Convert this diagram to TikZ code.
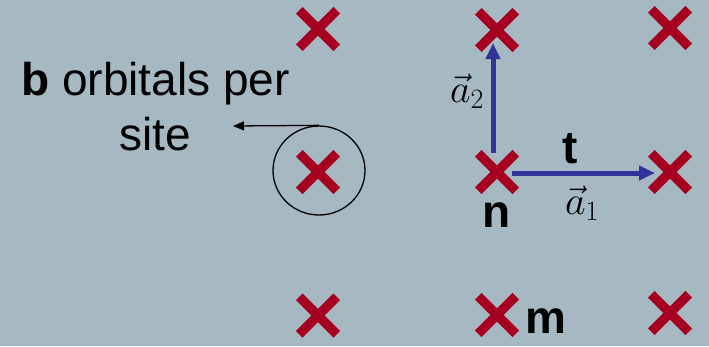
\documentclass[tikz,border=0pt]{standalone}
\usepackage{fix-cm}
\usepackage{fontspec}
\setmainfont{Liberation Sans}
\usetikzlibrary{shapes.misc,shapes.geometric,arrows.meta}
\definecolor{slate}{RGB}{166,184,193}
\definecolor{siteRed}{RGB}{165,0,33}
\definecolor{vecBlue}{RGB}{51,51,153}
\tikzset{
  site/.style={cross out, draw=siteRed, line width=9.5pt, minimum size=28pt, inner sep=0pt},
  latvec/.style={draw=vecBlue, line width=5pt, -{Triangle[length=16pt,width=14pt]}},
  txt/.style={font=\fontsize{46}{55}\selectfont, inner sep=0pt, anchor=base},
  vlab/.style={font=\fontsize{40}{44}\selectfont, inner sep=0pt, anchor=base}
}
\begin{document}
\begin{tikzpicture}[x=1pt,y=-1pt]
            \fill[slate] (0,0) rectangle (709,346);
            \useasboundingbox (0,0) rectangle (709,346);

            \node[site] (s11) at (318,29) {};
            \node[site] (s12) at (497,30) {};
            \node[site] (s13) at (670,28) {};
            \node[site] (s21) at (318,172) {};
            \node[site] (s22) at (497,172) {};
            \node[site] (s23) at (670,172) {};
            \node[site] (s31) at (318,315.5) {};
            \node[site] (s32) at (497,315) {};
            \node[site] (s33) at (670,313) {};

            \node[draw, ellipse, line width=1.3pt, minimum width=92pt, minimum height=89pt, inner sep=0pt] (ring) at (319,170.5) {};
            \node[txt, align=center] (orb) at (155.5,150) {\textbf{b} orbitals per\\site};
            \coordinate (tip) at (233,126);
            \draw[line width=1.3pt, -{Triangle[length=11pt,width=9pt]}] (ring.north) -- (tip);

            \draw[latvec, shorten <=19pt, shorten >=13pt] ([xshift=-4pt]s22.center) -- ([xshift=-4pt]s12.center);
            \draw[latvec, shorten <=15pt, shorten >=15pt] ([yshift=-1pt]s22.center) -- ([yshift=-1pt]s23.center);

            \node[txt] (t) at (570,163) {\textbf{t}};
            \node[txt] (n) at (497,227) {\textbf{n}};
            \node[txt, anchor=base west] (m) at (525,333) {\textbf{m}};
            \node[vlab] (a1) at (582,214) {$\vec{a}_1$};
            \node[vlab] (a2) at (467,102) {$\vec{a}_2$};
        \end{tikzpicture}
\end{document}
